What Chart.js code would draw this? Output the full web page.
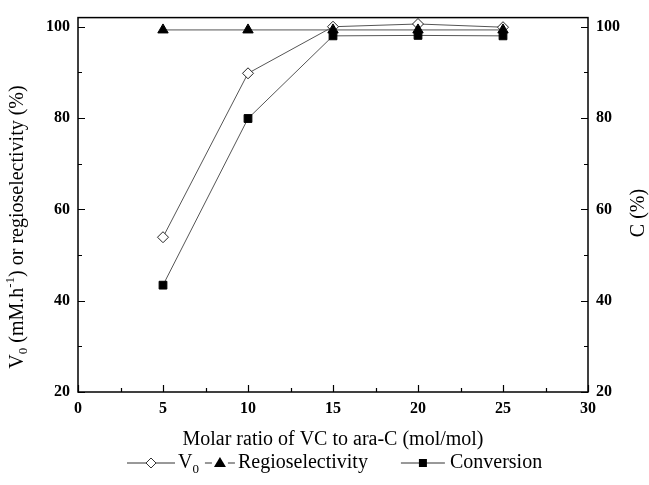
<!DOCTYPE html>
<html lang="en">
<head>
<meta charset="UTF-8">
<title>V0, regioselectivity and conversion vs molar ratio</title>
<script src="https://cdn.jsdelivr.net/npm/chart.js"></script>
<style>
    body { margin: 0; background: #fff; }
    #wrap { width: 649px; height: 485px; }
</style>
</head>
<body>
<div id="wrap"><canvas id="myChart"></canvas></div>
<script>
// molar ratio VC : ara-C
const ratios = [5, 10, 15, 20, 25];
const v0 = [53.9, 89.8, 100.0, 100.6, 99.9];
const regio = [99.3, 99.3, 99.3, 99.3, 99.3];
const conversion = [43.4, 79.9, 98.0, 98.1, 98.0];

const xTicks = [0, 2.5, 5, 7.5, 10, 12.5, 15, 17.5, 20, 22.5, 25, 27.5, 30];
const xLabels = [0, 5, 10, 15, 20, 25, 30];
const yTicks = [20, 30, 40, 50, 60, 70, 80, 90, 100];
const yLabels = [20, 40, 60, 80, 100];

const serif = '"Liberation Serif", "Times New Roman", serif';

// draws pieces of text with sub/superscripts, centred on 0,0
function richText(ctx, parts) {
    let total = 0;
    parts.forEach(p => { ctx.font = p.size + 'px ' + serif; p.w = ctx.measureText(p.t).width; total += p.w; });
    let x = -total / 2;
    parts.forEach(p => {
        ctx.font = p.size + 'px ' + serif;
        ctx.fillText(p.t, x, p.dy);
        x += p.w;
    });
}

// legend icon: line with the marker in the middle
function drawIcon(ctx, kind, x, y, w) {
    const cx = x + w / 2;
    ctx.strokeStyle = '#333';
    ctx.lineWidth = 1;
    ctx.beginPath();
    if (kind === 'triangle') {
        ctx.moveTo(x, y); ctx.lineTo(cx - 8, y);
        ctx.moveTo(cx + 8, y); ctx.lineTo(x + w, y);
    } else {
        ctx.moveTo(x, y); ctx.lineTo(x + w, y);
    }
    ctx.stroke();
    ctx.beginPath();
    if (kind === 'diamond') {
        ctx.moveTo(cx, y - 5); ctx.lineTo(cx + 5, y); ctx.lineTo(cx, y + 5); ctx.lineTo(cx - 5, y); ctx.closePath();
        ctx.fillStyle = '#fff'; ctx.fill(); ctx.stroke();
    } else if (kind === 'triangle') {
        ctx.moveTo(cx, y - 6); ctx.lineTo(cx + 6, y + 4); ctx.lineTo(cx - 6, y + 4); ctx.closePath();
        ctx.fillStyle = '#000'; ctx.fill();
    } else {
        ctx.rect(cx - 4, y - 4, 8, 8);
        ctx.fillStyle = '#000'; ctx.fill();
    }
}

const legendIcons = [
    { kind: 'diamond', w: 48, textGap: 3, gapAfter: 6 },
    { kind: 'triangle', w: 30, textGap: 3, gapAfter: 33 },
    { kind: 'square', w: 44, textGap: 5, gapAfter: 0 }
];

const decorations = {
    id: 'decorations',
    afterDraw(chart) {
        const { ctx, chartArea: { left, right, top, bottom } } = chart;
        const sx = chart.scales.x, sy = chart.scales.y;
        ctx.save();
        ctx.strokeStyle = '#000';
        ctx.lineWidth = 1.5;
        ctx.strokeRect(left, top, right - left, bottom - top);
        ctx.lineWidth = 1.2;
        ctx.beginPath();
        xTicks.forEach(v => {
            const px = Math.round(sx.getPixelForValue(v)) + 0.5;
            const len = xLabels.includes(v) ? 7 : 4;
            ctx.moveTo(px, bottom); ctx.lineTo(px, bottom - len);
        });
        yTicks.forEach(v => {
            const py = Math.round(sy.getPixelForValue(v)) + 0.5;
            const len = yLabels.includes(v) ? 7 : 4;
            ctx.moveTo(left, py); ctx.lineTo(left + len, py);
            ctx.moveTo(right, py); ctx.lineTo(right - len, py);
        });
        ctx.stroke();

        ctx.fillStyle = '#000';
        ctx.textAlign = 'left';
        ctx.textBaseline = 'middle';

        // left axis title
        ctx.save();
        ctx.translate(18, 227);
        ctx.rotate(-Math.PI / 2);
        richText(ctx, [
            { t: 'V', size: 20, dy: 0 },
            { t: '0', size: 13, dy: 6 },
            { t: ' (mM.h', size: 20, dy: 0 },
            { t: '-1', size: 13, dy: -7 },
            { t: ') or regioselectivity (%)', size: 20, dy: 0 }
        ]);
        ctx.restore();

        // right axis title
        ctx.save();
        ctx.translate(639, 213);
        ctx.rotate(-Math.PI / 2);
        richText(ctx, [{ t: 'C (%)', size: 20, dy: 0 }]);
        ctx.restore();

        // legend
        let x = 127;
        const ly = 463;
        chart.data.datasets.forEach((ds, i) => {
            const ic = legendIcons[i];
            drawIcon(ctx, ic.kind, x, ly, ic.w);
            x += ic.w + ic.textGap;
            ctx.fillStyle = '#000';
            ctx.font = '20px ' + serif;
            const mainW = ctx.measureText(ds.label).width;
            ctx.fillText(ds.label, x, ly);
            x += mainW;
            if (ds.legendSub) {
                ctx.font = '13px ' + serif;
                ctx.fillText(ds.legendSub, x, ly + 7);
                x += ctx.measureText(ds.legendSub).width;
            }
            x += ic.gapAfter;
        });
        ctx.restore();
    }
};

const tickFont = { family: serif, size: 16, weight: 'bold' };

new Chart(document.getElementById('myChart'), {
    type: 'line',
    data: {
        labels: ratios,
        datasets: [
            {
                label: 'V',
                legendSub: '0',
                data: ratios.map((x, i) => ({ x: x, y: v0[i] })),
                yAxisID: 'y',
                borderColor: '#555',
                borderWidth: 1,
                pointStyle: 'rectRot',
                pointRadius: 5.5,
                pointBackgroundColor: '#fff',
                pointBorderColor: '#222',
                pointBorderWidth: 1,
                order: 3
            },
            {
                label: 'Regioselectivity',
                data: ratios.map((x, i) => ({ x: x, y: regio[i] })),
                yAxisID: 'y',
                borderColor: '#555',
                borderWidth: 1,
                pointStyle: 'triangle',
                pointRadius: 6,
                pointBackgroundColor: '#000',
                pointBorderColor: '#000',
                order: 2
            },
            {
                label: 'Conversion',
                data: ratios.map((x, i) => ({ x: x, y: conversion[i] })),
                yAxisID: 'y1',
                borderColor: '#555',
                borderWidth: 1,
                pointStyle: 'rect',
                pointRadius: 5.5,
                pointBackgroundColor: '#000',
                pointBorderColor: '#000',
                order: 1
            }
        ]
    },
    options: {
        responsive: true,
        maintainAspectRatio: false,
        animation: false,
        layout: { padding: { top: 14, left: 0, right: 0, bottom: 0 } },
        scales: {
            x: {
                type: 'linear',
                min: 0, max: 30,
                afterBuildTicks: s => { s.ticks = xTicks.map(v => ({ value: v })); },
                afterFit: s => { s.height = 93; },
                ticks: {
                    autoSkip: false,
                    maxRotation: 0,
                    padding: 7,
                    color: '#000',
                    font: tickFont,
                    callback: v => xLabels.includes(v) ? v : ''
                },
                grid: { display: false, drawTicks: false },
                border: { display: false },
                title: {
                    display: true,
                    text: 'Molar ratio of VC to ara-C (mol/mol)',
                    color: '#000',
                    font: { family: serif, size: 20 },
                    padding: { top: 0, bottom: 33 }
                }
            },
            y: {
                position: 'left',
                min: 20, max: 102,
                afterBuildTicks: s => { s.ticks = yTicks.map(v => ({ value: v })); },
                afterFit: s => { s.width = 78; },
                ticks: {
                    autoSkip: false,
                    padding: 8,
                    color: '#000',
                    font: tickFont,
                    callback: v => yLabels.includes(v) ? v : ''
                },
                grid: { display: false, drawTicks: false },
                border: { display: false }
            },
            y1: {
                position: 'right',
                min: 20, max: 102,
                afterBuildTicks: s => { s.ticks = yTicks.map(v => ({ value: v })); },
                afterFit: s => { s.width = 61; },
                ticks: {
                    autoSkip: false,
                    padding: 8,
                    color: '#000',
                    font: tickFont,
                    callback: v => yLabels.includes(v) ? v : ''
                },
                grid: { display: false, drawTicks: false },
                border: { display: false }
            }
        },
        plugins: {
            tooltip: { enabled: false },
            legend: { display: false }
        }
    },
    plugins: [decorations]
});
</script>
</body>
</html>
